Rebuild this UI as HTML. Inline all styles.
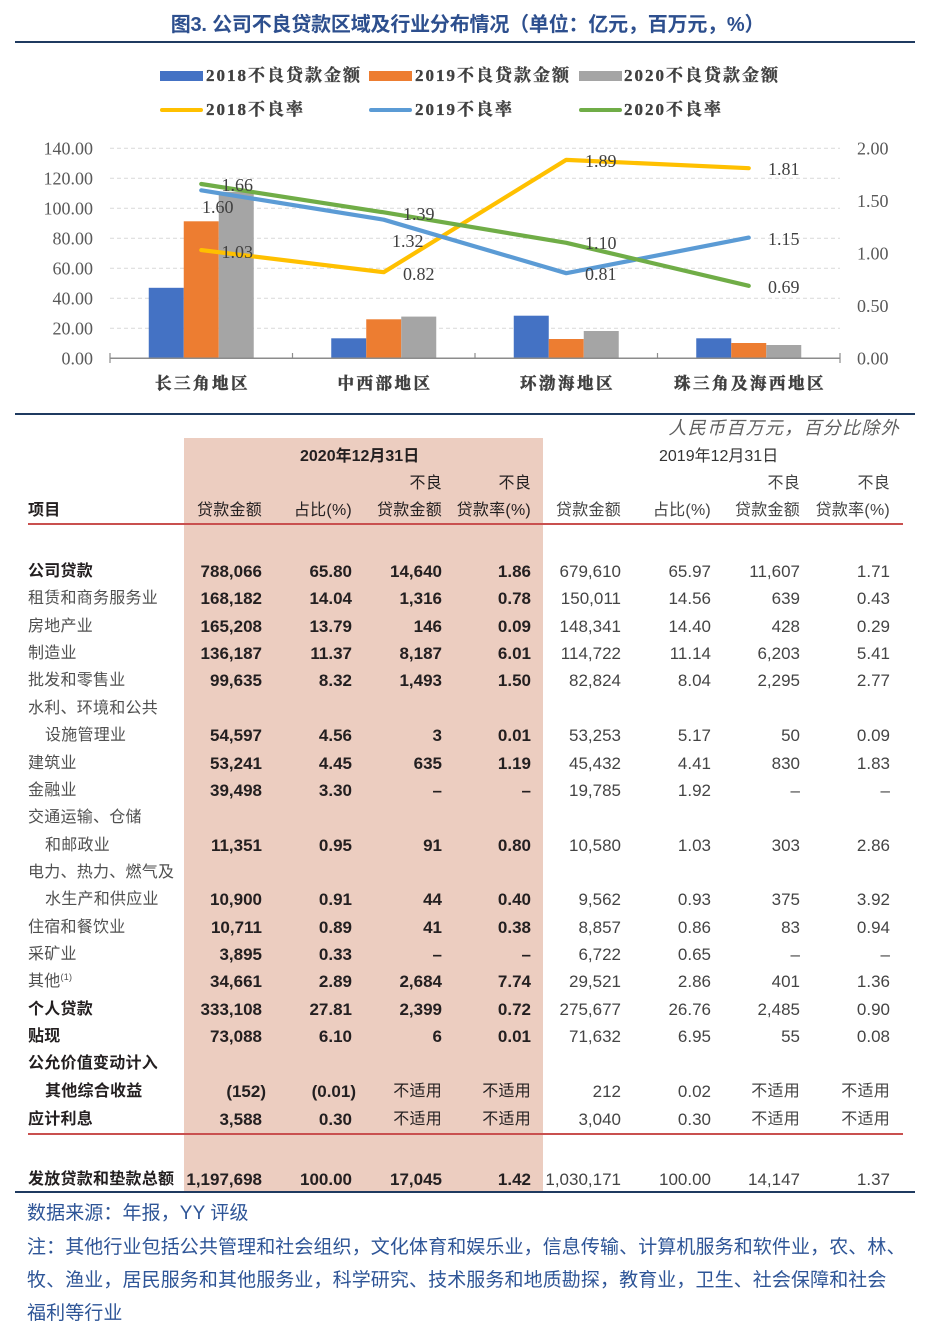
<!DOCTYPE html>
<html><head><meta charset="utf-8">
<style>
*{margin:0;padding:0;box-sizing:border-box}
body{width:935px;height:1341px;background:#fff;position:relative;overflow:hidden;font-family:"Liberation Sans","Noto Sans CJK SC",sans-serif}
.abs{position:absolute}
.title{position:absolute;left:0;width:935px;top:11px;text-align:center;font-size:20px;font-weight:bold;color:#2D4F8E;line-height:28px;font-family:"Liberation Sans","Noto Sans CJK SC",sans-serif;letter-spacing:-0.2px}
.hl{position:absolute;left:15px;width:900px;height:2px;background:#1F3A60}
.leg{position:absolute;font-family:"Liberation Serif","Noto Serif CJK SC",serif;font-weight:bold;font-size:17px;color:#404040;letter-spacing:2px;line-height:22px;white-space:nowrap;-webkit-text-stroke:0.35px #404040}
.pink{position:absolute;left:184px;width:359px;top:438px;height:754px;background:#ECCDC0}
.r{position:absolute;left:0;width:935px;height:22px;line-height:22px;font-size:17px;white-space:nowrap;margin-top:2px}
.r span{position:absolute;top:0}
.l{left:28px;font-size:16px;letter-spacing:0.25px;color:#505050}
.l.i{left:45px}
.l.b{font-weight:bold;color:#231F20}
.c1{right:673px}.c2{right:583px}.c3{right:493px}.c4{right:404px}
.c5{right:314px}.c6{right:224px}.c7{right:135px}.c8{right:45px}
.c1,.c2,.c3,.c4{font-weight:bold;color:#231F20}
.c5,.c6,.c7,.c8{color:#444}
.h{font-size:16px;letter-spacing:0.25px}
.neg{margin-right:-4px}
.red{position:absolute;left:28px;width:875px;height:2px;background:#C9504F}
.foot{position:absolute;left:27px;font-size:19px;color:#2E5597;letter-spacing:0.1px;white-space:nowrap;line-height:26px}
.sup{font-style:normal;font-size:9px;position:relative;top:-6px;line-height:0}
</style></head><body>

<div class="title">图3. 公司不良贷款区域及行业分布情况（单位：亿元，百万元，%）</div>
<div class="hl" style="top:41px"></div>

<!-- legend -->
<div class="abs" style="left:160px;top:71px;width:43px;height:10px;background:#4472C4"></div>
<div class="leg" style="left:206px;top:65px">2018不良贷款金额</div>
<div class="abs" style="left:369px;top:71px;width:43px;height:10px;background:#ED7D31"></div>
<div class="leg" style="left:415px;top:65px">2019不良贷款金额</div>
<div class="abs" style="left:579px;top:71px;width:43px;height:10px;background:#A5A5A5"></div>
<div class="leg" style="left:624px;top:65px">2020不良贷款金额</div>
<div class="abs" style="left:160px;top:108px;width:43px;height:4px;border-radius:2px;background:#FFC000"></div>
<div class="leg" style="left:206px;top:99px">2018不良率</div>
<div class="abs" style="left:369px;top:108px;width:43px;height:4px;border-radius:2px;background:#5B9BD5"></div>
<div class="leg" style="left:415px;top:99px">2019不良率</div>
<div class="abs" style="left:579px;top:108px;width:43px;height:4px;border-radius:2px;background:#70AD47"></div>
<div class="leg" style="left:624px;top:99px">2020不良率</div>

<svg class="abs" style="left:0;top:0" width="935" height="410" xmlns="http://www.w3.org/2000/svg">
<g stroke="#D9D9D9" stroke-width="1" stroke-dasharray="4,3">
<line x1="110" x2="840" y1="148.3" y2="148.3"/>
<line x1="110" x2="840" y1="178.3" y2="178.3"/>
<line x1="110" x2="840" y1="208.3" y2="208.3"/>
<line x1="110" x2="840" y1="238.3" y2="238.3"/>
<line x1="110" x2="840" y1="268.3" y2="268.3"/>
<line x1="110" x2="840" y1="298.3" y2="298.3"/>
<line x1="110" x2="840" y1="328.3" y2="328.3"/>
</g>
<g font-family="Liberation Serif, serif" font-size="18" fill="#595959" text-anchor="end">
<text x="93" y="154.3">140.00</text>
<text x="93" y="184.3">120.00</text>
<text x="93" y="214.3">100.00</text>
<text x="93" y="244.3">80.00</text>
<text x="93" y="274.3">60.00</text>
<text x="93" y="304.3">40.00</text>
<text x="93" y="334.3">20.00</text>
<text x="93" y="364.3">0.00</text>
</g>
<g font-family="Liberation Serif, serif" font-size="18" fill="#595959">
<text x="857" y="154.3">2.00</text>
<text x="857" y="206.8">1.50</text>
<text x="857" y="259.3">1.00</text>
<text x="857" y="311.8">0.50</text>
<text x="857" y="364.3">0.00</text>
</g>
<!-- bars -->
<g>
<rect x="148.75" y="287.8" width="35" height="70.5" fill="#4472C4"/>
<rect x="183.75" y="221.3" width="35" height="137" fill="#ED7D31"/>
<rect x="218.75" y="191.8" width="35" height="166.5" fill="#A5A5A5"/>
<rect x="331.25" y="338.3" width="35" height="20" fill="#4472C4"/>
<rect x="366.25" y="319.3" width="35" height="39" fill="#ED7D31"/>
<rect x="401.25" y="316.6" width="35" height="41.7" fill="#A5A5A5"/>
<rect x="513.75" y="315.7" width="35" height="42.6" fill="#4472C4"/>
<rect x="548.75" y="339" width="35" height="19.3" fill="#ED7D31"/>
<rect x="583.75" y="331" width="35" height="27.3" fill="#A5A5A5"/>
<rect x="696.25" y="338.3" width="35" height="20" fill="#4472C4"/>
<rect x="731.25" y="343" width="35" height="15.3" fill="#ED7D31"/>
<rect x="766.25" y="345" width="35" height="13.3" fill="#A5A5A5"/>
</g>
<line x1="110" x2="840" y1="358.3" y2="358.3" stroke="#8C8C8C" stroke-width="1.5"/>
<g stroke="#8C8C8C" stroke-width="1.2">
<line x1="110" x2="110" y1="353" y2="363"/>
<line x1="292.5" x2="292.5" y1="353" y2="358"/>
<line x1="475" x2="475" y1="353" y2="358"/>
<line x1="657.5" x2="657.5" y1="353" y2="358"/>
<line x1="840" x2="840" y1="353" y2="363"/>
</g>
<!-- lines -->
<g fill="none" stroke-width="4.2" stroke-linecap="round" stroke-linejoin="round">
<polyline stroke="#FFC000" points="201.25,250.1 383.75,272.2 566.25,159.85 748.75,168.2"/>
<polyline stroke="#5B9BD5" points="201.25,190.3 383.75,219.7 566.25,273.2 748.75,237.6"/>
<polyline stroke="#70AD47" points="201.25,184 383.75,212.35 566.25,242.8 748.75,285.85"/>
</g>
<g font-family="Liberation Serif, serif" font-size="18" fill="#404040">
<text x="221.5" y="191">1.66</text>
<text x="202" y="213">1.60</text>
<text x="221.5" y="258">1.03</text>
<text x="403" y="220">1.39</text>
<text x="392" y="247">1.32</text>
<text x="403" y="280">0.82</text>
<text x="585" y="167">1.89</text>
<text x="585" y="249">1.10</text>
<text x="585" y="280">0.81</text>
<text x="768" y="175">1.81</text>
<text x="768" y="245">1.15</text>
<text x="768" y="293">0.69</text>
</g>
<g font-family="Liberation Serif, Noto Serif CJK SC, serif" font-size="16.5" font-weight="bold" fill="#404040" stroke="#404040" stroke-width="0.5" text-anchor="middle" letter-spacing="2.5">
<text x="202.5" y="389">长三角地区</text>
<text x="385" y="389">中西部地区</text>
<text x="567.5" y="389">环渤海地区</text>
<text x="750" y="389">珠三角及海西地区</text>
</g>
</svg>

<div class="hl" style="top:413px"></div>
<div class="pink"></div>

<div class="abs" style="right:35px;top:416px;font-size:18px;font-style:italic;color:#5f5f5f;letter-spacing:1.3px;line-height:24px;white-space:nowrap">人民币百万元，百分比除外</div>

<div class="r" style="top:444px"><span style="left:300px;font-size:16px;font-weight:bold;color:#231F20">2020年12月31日</span><span style="left:659px;font-size:16px;color:#333">2019年12月31日</span></div>
<div class="r h" style="top:471px"><span class="c3 h" style="font-weight:normal;color:#231F20">不良</span><span class="c4 h" style="font-weight:normal;color:#231F20">不良</span><span class="c7 h">不良</span><span class="c8 h">不良</span></div>
<div class="r" style="top:498px"><span class="l b">项目</span><span class="c1 h" style="font-weight:normal;color:#231F20">贷款金额</span><span class="c2 h" style="font-weight:normal;color:#231F20">占比(%)</span><span class="c3 h" style="font-weight:normal;color:#231F20">贷款金额</span><span class="c4 h" style="font-weight:normal;color:#231F20">贷款率(%)</span><span class="c5 h">贷款金额</span><span class="c6 h">占比(%)</span><span class="c7 h">贷款金额</span><span class="c8 h">贷款率(%)</span></div>
<div class="red" style="top:523px"></div>

<div class="r" style="top:559px"><span class="l b">公司贷款</span><span class="c1">788,066</span><span class="c2">65.80</span><span class="c3">14,640</span><span class="c4">1.86</span><span class="c5">679,610</span><span class="c6">65.97</span><span class="c7">11,607</span><span class="c8">1.71</span></div>
<div class="r" style="top:586.4px"><span class="l">租赁和商务服务业</span><span class="c1">168,182</span><span class="c2">14.04</span><span class="c3">1,316</span><span class="c4">0.78</span><span class="c5">150,011</span><span class="c6">14.56</span><span class="c7">639</span><span class="c8">0.43</span></div>
<div class="r" style="top:613.7px"><span class="l">房地产业</span><span class="c1">165,208</span><span class="c2">13.79</span><span class="c3">146</span><span class="c4">0.09</span><span class="c5">148,341</span><span class="c6">14.40</span><span class="c7">428</span><span class="c8">0.29</span></div>
<div class="r" style="top:641px"><span class="l">制造业</span><span class="c1">136,187</span><span class="c2">11.37</span><span class="c3">8,187</span><span class="c4">6.01</span><span class="c5">114,722</span><span class="c6">11.14</span><span class="c7">6,203</span><span class="c8">5.41</span></div>
<div class="r" style="top:668.4px"><span class="l">批发和零售业</span><span class="c1">99,635</span><span class="c2">8.32</span><span class="c3">1,493</span><span class="c4">1.50</span><span class="c5">82,824</span><span class="c6">8.04</span><span class="c7">2,295</span><span class="c8">2.77</span></div>
<div class="r" style="top:695.8px"><span class="l">水利、环境和公共</span></div>
<div class="r" style="top:723px"><span class="l i">设施管理业</span><span class="c1">54,597</span><span class="c2">4.56</span><span class="c3">3</span><span class="c4">0.01</span><span class="c5">53,253</span><span class="c6">5.17</span><span class="c7">50</span><span class="c8">0.09</span></div>
<div class="r" style="top:750.5px"><span class="l">建筑业</span><span class="c1">53,241</span><span class="c2">4.45</span><span class="c3">635</span><span class="c4">1.19</span><span class="c5">45,432</span><span class="c6">4.41</span><span class="c7">830</span><span class="c8">1.83</span></div>
<div class="r" style="top:777.8px"><span class="l">金融业</span><span class="c1">39,498</span><span class="c2">3.30</span><span class="c3">–</span><span class="c4">–</span><span class="c5">19,785</span><span class="c6">1.92</span><span class="c7">–</span><span class="c8">–</span></div>
<div class="r" style="top:805px"><span class="l">交通运输、仓储</span></div>
<div class="r" style="top:832.5px"><span class="l i">和邮政业</span><span class="c1">11,351</span><span class="c2">0.95</span><span class="c3">91</span><span class="c4">0.80</span><span class="c5">10,580</span><span class="c6">1.03</span><span class="c7">303</span><span class="c8">2.86</span></div>
<div class="r" style="top:859.9px"><span class="l">电力、热力、燃气及</span></div>
<div class="r" style="top:887.2px"><span class="l i">水生产和供应业</span><span class="c1">10,900</span><span class="c2">0.91</span><span class="c3">44</span><span class="c4">0.40</span><span class="c5">9,562</span><span class="c6">0.93</span><span class="c7">375</span><span class="c8">3.92</span></div>
<div class="r" style="top:914.5px"><span class="l">住宿和餐饮业</span><span class="c1">10,711</span><span class="c2">0.89</span><span class="c3">41</span><span class="c4">0.38</span><span class="c5">8,857</span><span class="c6">0.86</span><span class="c7">83</span><span class="c8">0.94</span></div>
<div class="r" style="top:942px"><span class="l">采矿业</span><span class="c1">3,895</span><span class="c2">0.33</span><span class="c3">–</span><span class="c4">–</span><span class="c5">6,722</span><span class="c6">0.65</span><span class="c7">–</span><span class="c8">–</span></div>
<div class="r" style="top:969.3px"><span class="l">其他<i class="sup">(1)</i></span><span class="c1">34,661</span><span class="c2">2.89</span><span class="c3">2,684</span><span class="c4">7.74</span><span class="c5">29,521</span><span class="c6">2.86</span><span class="c7">401</span><span class="c8">1.36</span></div>
<div class="r" style="top:996.6px"><span class="l b">个人贷款</span><span class="c1">333,108</span><span class="c2">27.81</span><span class="c3">2,399</span><span class="c4">0.72</span><span class="c5">275,677</span><span class="c6">26.76</span><span class="c7">2,485</span><span class="c8">0.90</span></div>
<div class="r" style="top:1024px"><span class="l b">贴现</span><span class="c1">73,088</span><span class="c2">6.10</span><span class="c3">6</span><span class="c4">0.01</span><span class="c5">71,632</span><span class="c6">6.95</span><span class="c7">55</span><span class="c8">0.08</span></div>
<div class="r" style="top:1051.3px"><span class="l b">公允价值变动计入</span></div>
<div class="r" style="top:1079px"><span class="l b i">其他综合收益</span><span class="c1 neg">(152)</span><span class="c2 neg">(0.01)</span><span class="c3 h" style="font-weight:normal">不适用</span><span class="c4 h" style="font-weight:normal">不适用</span><span class="c5">212</span><span class="c6">0.02</span><span class="c7 h">不适用</span><span class="c8 h">不适用</span></div>
<div class="r" style="top:1106.5px"><span class="l b">应计利息</span><span class="c1">3,588</span><span class="c2">0.30</span><span class="c3 h" style="font-weight:normal">不适用</span><span class="c4 h" style="font-weight:normal">不适用</span><span class="c5">3,040</span><span class="c6">0.30</span><span class="c7 h">不适用</span><span class="c8 h">不适用</span></div>
<div class="red" style="top:1133px"></div>
<div class="r" style="top:1167px"><span class="l b">发放贷款和垫款总额</span><span class="c1">1,197,698</span><span class="c2">100.00</span><span class="c3">17,045</span><span class="c4">1.42</span><span class="c5">1,030,171</span><span class="c6">100.00</span><span class="c7">14,147</span><span class="c8">1.37</span></div>
<div class="hl" style="top:1191px"></div>

<div class="foot" style="top:1201px">数据来源：年报，YY 评级</div>
<div class="foot" style="top:1235px">注：其他行业包括公共管理和社会组织，文化体育和娱乐业，信息传输、计算机服务和软件业，农、林、</div>
<div class="foot" style="top:1268px">牧、渔业，居民服务和其他服务业，科学研究、技术服务和地质勘探，教育业，卫生、社会保障和社会</div>
<div class="foot" style="top:1301px">福利等行业</div>
</body></html>
